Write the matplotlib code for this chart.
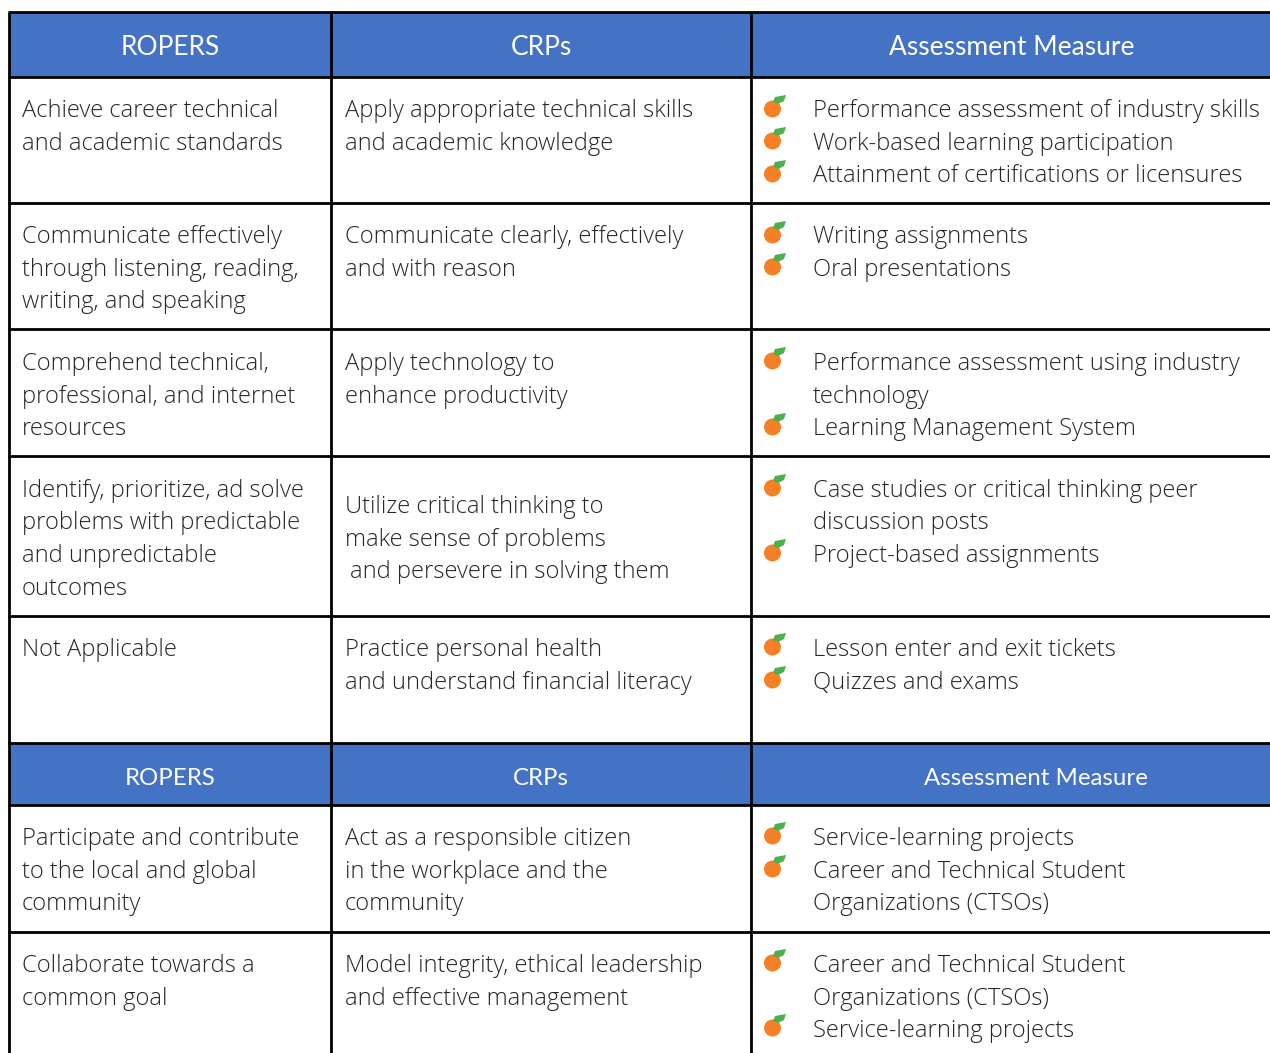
import matplotlib
matplotlib.use("Agg")
import matplotlib.pyplot as plt
from matplotlib.patches import Circle, Polygon, Rectangle

# table grid, in image pixels
col_lines = [9, 331, 751]
row_lines = [12, 77, 203, 329, 456, 616, 743, 805, 932]
headers = ["ROPERS", "CRPs", "Assessment Measure"]

# text rows: (x, baseline y, text)
ropers = [
    (22, 117, "Achieve career technical"), (22, 150, "and academic standards"),
    (22, 243, "Communicate effectively"), (22, 276, "through listening, reading,"), (22, 308, "writing, and speaking"),
    (22, 370, "Comprehend technical,"), (22, 403, "professional, and internet"), (22, 435, "resources"),
    (22, 497, "Identify, prioritize, ad solve"), (22, 529, "problems with predictable"),
    (22, 562, "and unpredictable"), (22, 595, "outcomes"),
    (22, 656, "Not Applicable"),
    (22, 845, "Participate and contribute"), (22, 878, "to the local and global"), (22, 910, "community"),
    (22, 972, "Collaborate towards a"), (22, 1005, "common goal"),
]
crps = [
    (345, 117, "Apply appropriate technical skills"), (345, 150, "and academic knowledge"),
    (345, 243, "Communicate clearly, effectively"), (345, 276, "and with reason"),
    (345, 370, "Apply technology to"), (345, 403, "enhance productivity"),
    (345, 513, "Utilize critical thinking to"), (345, 546, "make sense of problems"),
    (350, 578, "and persevere in solving them"),
    (345, 656, "Practice personal health"), (345, 689, "and understand financial literacy"),
    (345, 845, "Act as a responsible citizen"), (345, 878, "in the workplace and the"), (345, 910, "community"),
    (345, 972, "Model integrity, ethical leadership"), (345, 1005, "and effective management"),
]
measures = [
    (813, 117, "Performance assessment of industry skills"), (813, 150, "Work-based learning participation"),
    (813, 182, "Attainment of certifications or licensures"),
    (813, 243, "Writing assignments"), (813, 276, "Oral presentations"),
    (813, 370, "Performance assessment using industry"), (813, 403, "technology"),
    (813, 435, "Learning Management System"),
    (813, 497, "Case studies or critical thinking peer"), (813, 529, "discussion posts"),
    (813, 562, "Project-based assignments"),
    (813, 656, "Lesson enter and exit tickets"), (813, 689, "Quizzes and exams"),
    (813, 845, "Service-learning projects"), (813, 878, "Career and Technical Student"),
    (813, 910, "Organizations (CTSOs)"),
    (813, 972, "Career and Technical Student"), (813, 1005, "Organizations (CTSOs)"),
    (813, 1037, "Service-learning projects"),
]
bullet_rows = [109, 141, 174, 235, 267, 361, 427, 488, 553, 647, 680, 836, 869, 963, 1028]

blue = "#4472c4"
ink = "#262626"
font = "Open Sans"

fig = plt.figure(figsize=(12.7, 10.53), dpi=100)
ax = fig.add_axes([0, 0, 1, 1])
ax.set_xlim(0, 1270)
ax.set_ylim(1053, 0)
ax.axis("off")

# header bands
for top, bottom, base, size, xs in [(12, 77, 55, 19, [170, 541, 1012]), (743, 805, 785, 17.3, [170, 541, 1036])]:
    ax.add_patch(Rectangle((9, top), 1261, bottom - top, fc=blue, ec="none"))
    for x, label in zip(xs, headers):
        ax.text(x, base, label, color="white", fontsize=size, family="Lato",
                ha="center", va="baseline")

for y in row_lines:
    ax.plot([8, 1270], [y, y], color="black", lw=2.0, solid_capstyle="butt")
for x in col_lines:
    ax.plot([x, x], [12, 1053], color="black", lw=2.0, solid_capstyle="butt")

for rows in (ropers, crps, measures):
    for x, y, s in rows:
        ax.text(x, y, s, color=ink, fontsize=17.1, family=font, fontweight="light", ha="left", va="baseline")

# orange bullets
for y in bullet_rows:
    ax.add_patch(Circle((772.5, y), 8.5, fc="#f58025", ec="none"))
    ax.add_patch(Polygon([(773, y - 7), (775, y - 12), (786, y - 14), (784, y - 8), (778, y - 5)], fc="#4caf50", ec="none"))

fig.savefig("out.png", dpi=100)
